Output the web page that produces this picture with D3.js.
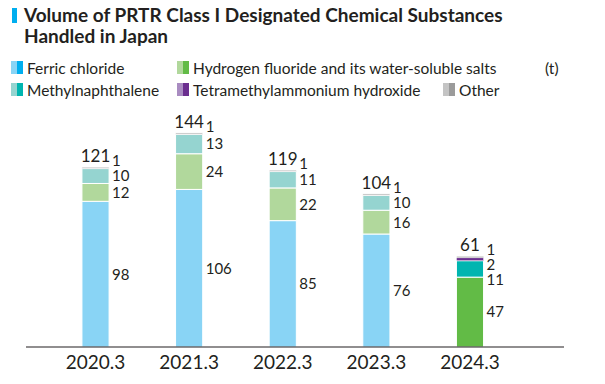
<!DOCTYPE html>
<html>
<head>
<meta charset="utf-8">
<script src="https://cdn.jsdelivr.net/npm/d3@7"></script>
<style>
  body { margin: 0; background: #fff; }
  svg { font-family: Lato, "Open Sans", sans-serif; }
</style>
</head>
<body>
<div class="chart"></div>
<script>
// data (t)
var years = ['2020.3', '2021.3', '2022.3', '2023.3', '2024.3'];
var substances = ['Ferric chloride', 'Hydrogen fluoride and its water-soluble salts',
  'Methylnaphthalene', 'Tetramethylammonium hydroxide', 'Other'];
var ferric = [98, 106, 85, 76, 0];
var hydrogenFluoride = [12, 24, 22, 16, 47];
var methylnaph = [10, 13, 11, 10, 11];
var tmah = [0, 0, 0, 0, 2];
var other = [1, 1, 1, 1, 1];
var totals = [121, 144, 119, 104, 61];

var series = [ferric, hydrogenFluoride, methylnaph, tmah, other];
var lightColors = ['#89d4f5', '#b1d89c', '#95d4d0', '#a98cc1', '#c4c4c4'];
var darkColors = ['#00aeef', '#62bb46', '#00b5b0', '#6b2e8f', '#9b9b9b'];
var textColor = '#231f20';

var width = 605, height = 384;
var baseY = 347;

var svg = d3.select('.chart')
  .append('svg')
    .attr('width', width)
    .attr('height', height);

// title
svg.append('rect')
    .attr('x', 12).attr('y', 8)
    .attr('width', 5).attr('height', 15)
    .attr('fill', '#00aeef');

svg.append('text')
    .attr('x', 24)
    .attr('font-size', '19px')
    .attr('font-weight', 'bold')
    .attr('fill', textColor)
  .selectAll('tspan')
  .data(['Volume of PRTR Class I Designated Chemical Substances', 'Handled in Japan'])
  .enter().append('tspan')
    .attr('x', 24)
    .attr('y', (d, i) => 22 + i * 21)
    .text(d => d);

// legend
var legendPos = [[11, 74], [177, 74], [11, 96], [177, 96], [443, 96]];
var legend = svg.selectAll('.legend')
  .data(substances)
  .enter().append('g')
    .attr('class', 'legend')
    .attr('transform', (d, i) => 'translate(' + legendPos[i][0] + ',' + legendPos[i][1] + ')');

legend.append('rect')
    .attr('x', 0).attr('y', -13)
    .attr('width', 6).attr('height', 13)
    .attr('fill', (d, i) => lightColors[i]);
legend.append('rect')
    .attr('x', 6).attr('y', -13)
    .attr('width', 6).attr('height', 13)
    .attr('fill', (d, i) => darkColors[i]);
legend.append('text')
    .attr('x', 16)
    .attr('y', 0)
    .attr('font-size', '15.5px')
    .attr('fill', textColor)
    .text(d => d);

svg.append('text')
    .attr('x', 545).attr('y', 74)
    .attr('font-size', '15.5px')
    .attr('fill', textColor)
    .text('(t)');

// scales
var x = d3.scaleBand()
    .domain(years)
    .range([48.7, 516.8])
    .paddingInner(0.71)
    .paddingOuter(0.355);

var y = d3.scaleLinear()
    .domain([0, 150])
    .range([baseY, baseY - 223]);

// stack
var table = years.map(function(yr, i) {
  var row = { year: yr, idx: i };
  substances.forEach(function(s, j) { row[s] = series[j][i]; });
  return row;
});
var stacked = d3.stack().keys(substances)(table);

var layers = svg.selectAll('.layer')
  .data(stacked)
  .enter().append('g')
    .attr('class', 'layer');

layers.selectAll('rect')
  .data(function(d) { return d.map(p => ({ p: p, k: d.index })); })
  .enter().append('rect')
    .filter(d => d.p[1] - d.p[0] > 0)
    .attr('x', d => x(d.p.data.year))
    .attr('width', x.bandwidth())
    .attr('y', d => y(d.p[1]))
    .attr('height', d => y(d.p[0]) - y(d.p[1]))
    .attr('fill', d => d.p.data.idx === years.length - 1 ? darkColors[d.k] : lightColors[d.k])
    .attr('stroke', '#fff')
    .attr('stroke-width', d => (y(d.p[0]) - y(d.p[1])) > 4 ? 1 : 0.5);

// segment value labels, dodged from top down
years.forEach(function(yr, i) {
  var labels = [];
  for (var k = substances.length - 1; k >= 0; k--) {
    var seg = stacked[k][i];
    if (seg[1] - seg[0] <= 0) continue;
    var cy = (y(seg[0]) + y(seg[1])) / 2;
    if (k === substances.length - 1) cy -= 7;
    labels.push({ v: seg[1] - seg[0], cy: cy });
  }
  for (var j = 1; j < labels.length; j++) {
    labels[j].cy = Math.max(labels[j].cy, labels[j - 1].cy + 15);
  }
  svg.selectAll('.lab' + i)
    .data(labels)
    .enter().append('text')
      .attr('x', x(yr) + x.bandwidth() + 3)
      .attr('y', d => d.cy)
      .attr('dy', '0.36em')
      .attr('font-size', '15px')
      .attr('fill', textColor)
      .text(d => d.v);
});

// totals
svg.selectAll('.total')
  .data(totals)
  .enter().append('text')
    .attr('class', 'total')
    .attr('x', (d, i) => x(years[i]) + x.bandwidth() / 2)
    .attr('y', (d, i) => y(d3.sum(series, s => s[i])) - 5)
    .attr('text-anchor', 'middle')
    .attr('font-size', '17px')
    .attr('fill', textColor)
    .text(d => d);

// axis
svg.append('line')
    .attr('x1', 26).attr('x2', 564)
    .attr('y1', baseY).attr('y2', baseY)
    .attr('stroke', '#231f20')
    .attr('stroke-width', 1.2);

var xAx = svg.append('g')
    .attr('transform', 'translate(0,' + baseY + ')')
    .call(d3.axisBottom(x).tickSize(0).tickPadding(9));
xAx.select('.domain').remove();
xAx.selectAll('text')
    .attr('font-size', '19px')
    .attr('font-family', 'Lato, "Open Sans", sans-serif')
    .attr('fill', textColor);
</script>
</body>
</html>
